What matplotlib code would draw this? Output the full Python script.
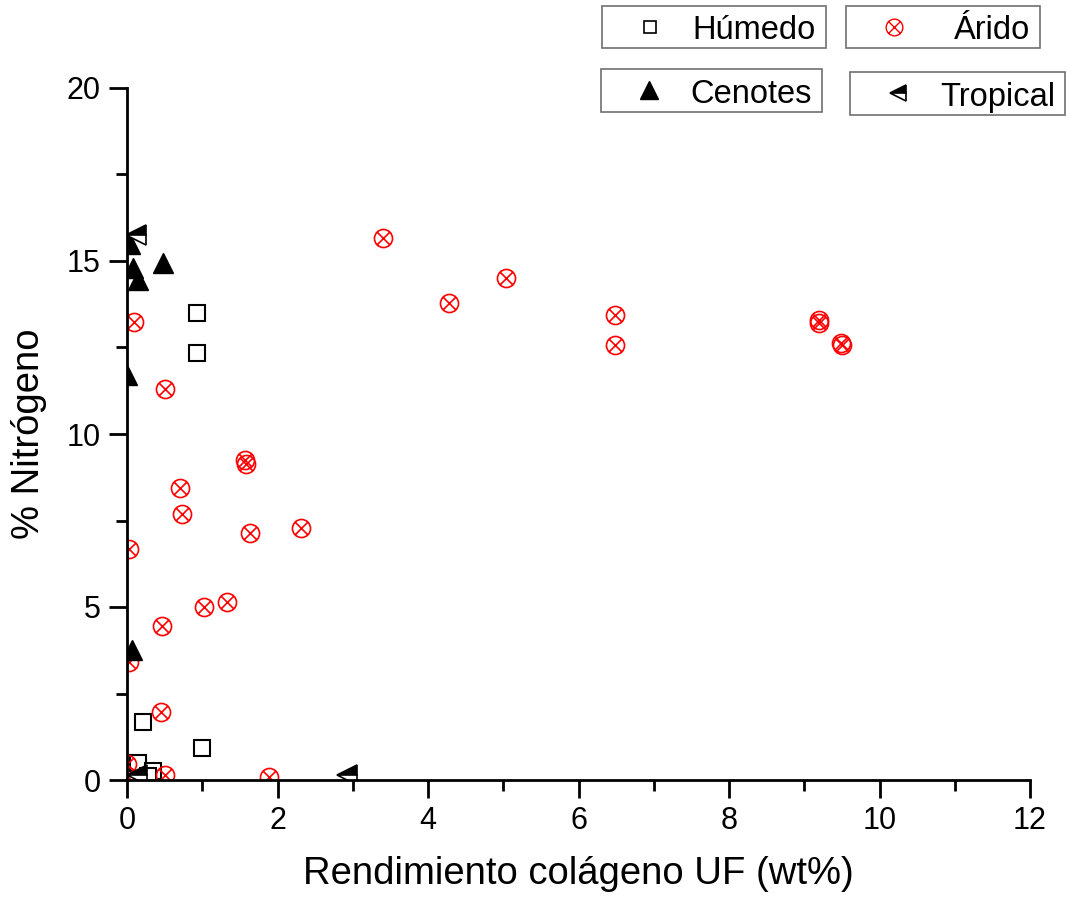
import matplotlib
matplotlib.use('Agg')
import matplotlib.pyplot as plt
from matplotlib.path import Path
from matplotlib.lines import Line2D
import numpy as np

# Rendimiento colágeno UF (wt%) vs % Nitrógeno per group
humedo_x = [0.93, 0.93, 0.21, 1.00, 0.15, 0.35, 0.28]
humedo_y = [13.5, 12.35, 1.68, 0.92, 0.5, 0.26, 0.12]

arido_x = [3.40, 4.28, 5.04, 6.48, 6.48, 9.20, 9.20, 9.49, 9.50, 0.09, 0.50,
           1.57, 1.58, 0.70, 0.73, 1.63, 2.31, 0.02, 1.33, 1.02, 0.47, 0.02,
           0.45, 0.50, 1.89, 0.0, 0.0]
arido_y = [15.66, 13.79, 14.51, 13.44, 12.57, 13.29, 13.2, 12.63, 12.58, 13.24,
           11.3, 9.25, 9.13, 8.44, 7.69, 7.14, 7.28, 6.68, 5.14, 5.0, 4.45, 3.4,
           1.97, 0.15, 0.09, 0.45, 0.12]

cenotes_x = [0.04, 0.08, 0.14, 0.48, 0.0, 0.07]
cenotes_y = [15.5, 14.8, 14.45, 14.94, 11.7, 3.75]

tropical_x = [0.12, 2.92, 0.13]
tropical_y = [15.75, 0.14, 0.15]

plt.rcParams['font.family'] = ['Liberation Sans', 'DejaVu Sans']

# circle with an x inside
circ = Path.unit_circle()
d = 0.707
cross = Path([(-d, -d), (d, d), (-d, d), (d, -d)],
             [Path.MOVETO, Path.LINETO, Path.MOVETO, Path.LINETO])
circle_x = Path.make_compound_path(circ, cross)

fig = plt.figure(figsize=(10.68, 9.05), dpi=100)
ax = fig.add_axes([127 / 1068, 1 - 780 / 905, 903 / 1068, 692 / 905])

ax.plot(humedo_x, humedo_y, ls='none', marker='s', ms=11, mfc='white',
        mec='black', mew=1.5, zorder=3)
ax.plot(arido_x, arido_y, ls='none', marker=circle_x, ms=13, mfc='none',
        mec='red', mew=1.2, zorder=3)
ax.plot(cenotes_x, cenotes_y, ls='none', marker='^', ms=15, mfc='black',
        mec='black', mew=1, zorder=3)
ax.plot(tropical_x, tropical_y, ls='none', marker='<', ms=14, mfc='black',
        fillstyle='top', markerfacecoloralt='white', mec='black', mew=1.2,
        zorder=4)

ax.set_xlim(0, 12)
ax.set_ylim(0, 20)
ax.set_xticks(np.arange(0, 13, 2))
ax.set_xticks(np.arange(1, 12, 2), minor=True)
ax.set_yticks([0, 5, 10, 15, 20])
ax.set_yticklabels(['0', '5', '10', '15', '20'])
ax.set_yticks([2.5, 7.5, 12.5, 17.5], minor=True)
for s in ['top', 'right']:
    ax.spines[s].set_visible(False)
for s in ['left', 'bottom']:
    ax.spines[s].set_linewidth(2)
    ax.spines[s].set_zorder(5)
ax.tick_params(which='major', direction='out', length=13, width=2,
               labelsize=22, pad=6)
ax.tick_params(which='minor', direction='out', length=8, width=2)

ax.set_xlabel('Rendimiento colágeno UF (wt%)', fontsize=27.5, labelpad=14)
ax.set_ylabel('% Nitrógeno', fontsize=27.5, labelpad=14)

# four boxed legend entries
entries = [
    (Line2D([], [], ls='none', marker='s', ms=9, mfc='white', mec='black', mew=1.2),
     'Húmedo', (602, 6, 826, 48)),
    (Line2D([], [], ls='none', marker=circle_x, ms=12, mfc='none', mec='red', mew=1),
     'Árido', (846, 6, 1040, 48)),
    (Line2D([], [], ls='none', marker='^', ms=13, mfc='black', mec='black'),
     'Cenotes', (601, 69, 822, 112)),
    (Line2D([], [], ls='none', marker='<', ms=12, fillstyle='top', mfc='black',
            markerfacecoloralt='white', mec='black', mew=1.2),
     'Tropical', (850, 72, 1065, 115)),
]
W, H = 1068, 905
for handle, label, (x0, y0, x1, y1) in entries:
    fig.patches.append(plt.Rectangle((x0 / W, 1 - y1 / H), (x1 - x0) / W,
                                     (y1 - y0) / H, transform=fig.transFigure,
                                     fill=False, ec='#707070', lw=1.2))
    ym = 1 - (y0 + y1) / 2 / H
    handle.set_data([(x0 + 48) / W], [ym])
    handle.set_transform(fig.transFigure)
    fig.lines.append(handle)
    fig.text((x1 - 10) / W, ym - 0.004, label, ha='right', va='center',
             fontsize=23.5)

fig.savefig('out.png', dpi=100)
